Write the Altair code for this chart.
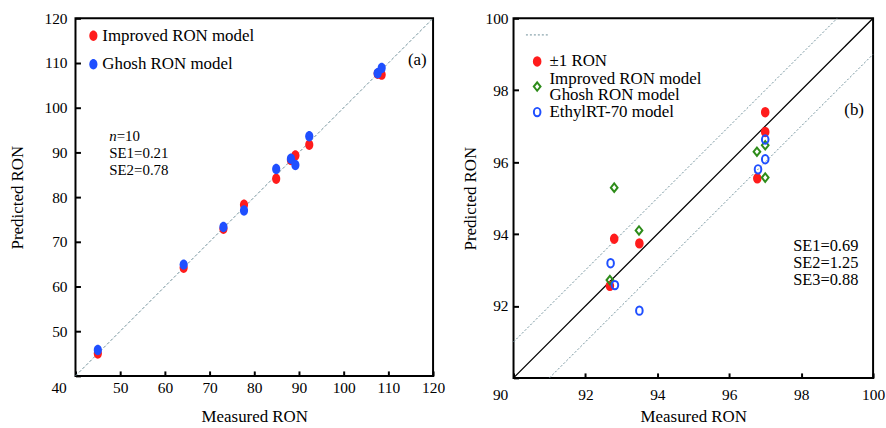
import altair as alt
import pandas as pd

FONT = "Liberation Serif"
RED = "#ff1c1c"
BLUE = "#1f4fff"
GREEN = "#2e8c1a"
GRAY = "#6f8f99"
ELLIPSE = "M0,-1A0.78,1,0,1,1,0,1A0.78,1,0,1,1,0,-1Z"
DIAMOND = "M0,-1L0.8,0L0,1L-0.8,0Z"

# ---------------- panel (a) data ----------------
a_ticks = [40, 50, 60, 70, 80, 90, 100, 110, 120]
a_measured = [45.0, 64.2, 73.1, 77.7, 84.9, 88.2, 89.2, 92.3, 107.6, 108.5]
a_improved = [45.0, 64.2, 72.9, 78.3, 84.1, 88.3, 89.3, 91.7, 107.6, 107.4]
a_ghosh = [45.8, 64.9, 73.3, 77.0, 86.3, 88.6, 87.2, 93.6, 107.7, 108.9]
a_models = ["Improved RON model", "Ghosh RON model"]
a_ref = [40, 120]

# ---------------- panel (b) data ----------------
b_ticks = [90, 92, 94, 96, 98, 100]
b_series = ["±1 RON", "Improved RON model", "EthylRT-70 model"]
b_legend_extra = "Ghosh RON model"
b_red_x = [92.68, 92.8, 93.5, 96.78, 97.0, 97.0]
b_red_y = [92.56, 93.87, 93.74, 95.55, 96.84, 97.39]
b_green_x = [92.68, 92.8, 93.49, 96.77, 97.0, 97.0]
b_green_y = [92.72, 95.29, 94.10, 96.29, 95.57, 96.47]
b_blue_x = [92.7, 92.82, 93.5, 96.8, 97.0, 97.0]
b_blue_y = [93.19, 92.58, 91.87, 95.80, 96.08, 96.63]
b_diag = [90, 100]
b_upper_x = [90, 99]
b_upper_y = [91, 100]
b_lower_x = [91, 100]
b_lower_y = [90, 99]


def x_axis(ticks, lp, tp, corner, corner_off):
    return alt.Axis(
        values=ticks, domain=False, grid=False, offset=-5, tickSize=5, tickWidth=2,
        tickColor="black", labelPadding=lp, labelFont=FONT, labelFontSize=15.5,
        labelColor="black", labelFlush=False, labelOverlap=False,
        labelOffset={"condition": {"test": f"datum.value === {corner}", "value": corner_off}, "value": 0},
        title="Measured RON", titleFont=FONT, titleFontSize=17, titleFontWeight="normal",
        titleColor="black", titlePadding=tp,
    )


def y_axis(ticks, lp, tp, corner):
    return alt.Axis(
        values=ticks, domain=False, grid=False, offset=-5, tickSize=5, tickWidth=2,
        tickColor="black", labelPadding=lp, labelFont=FONT, labelFontSize=15.5,
        labelColor="black", labelFlush=False, labelOverlap=False,
        labelExpr=f"datum.value == {corner} ? '' : datum.label",
        title="Predicted RON", titleFont=FONT, titleFontSize=17, titleFontWeight="normal",
        titleColor="black", titlePadding=tp,
    )


def label(text, x, y, size, align="left", style="normal"):
    return alt.Chart(pd.DataFrame({"t": [text]})).mark_text(
        font=FONT, fontSize=size, align=align, baseline="middle", color="black", fontStyle=style
    ).encode(text="t:N", x=alt.value(x), y=alt.value(y))


def key_symbol(shape, fill, stroke, x, y):
    return alt.Chart(pd.DataFrame({"k": [0]})).mark_point(
        shape=shape, size=72, fill=fill, stroke=stroke, strokeWidth=2, opacity=1
    ).encode(x=alt.value(x), y=alt.value(y))


# ---------------- panel (a) ----------------
xa = alt.X("x:Q", scale=alt.Scale(domain=[40, 120], nice=False, zero=False),
           axis=x_axis(a_ticks, 4.5, 13, 40, -17))
ya = alt.Y("y:Q", scale=alt.Scale(domain=[40, 120], nice=False, zero=False),
           axis=y_axis(a_ticks, 8.5, 17.5, 40))

df_a = pd.DataFrame({
    "x": a_measured + a_measured,
    "y": a_improved + a_ghosh,
    "model": [a_models[0]] * len(a_improved) + [a_models[1]] * len(a_ghosh),
})
diag_a = alt.Chart(pd.DataFrame({"x": a_ref, "y": a_ref})).mark_line(
    stroke=GRAY, strokeWidth=1, strokeDash=[3, 2]).encode(x=xa, y=ya)
pts_a = alt.Chart(df_a).mark_point(filled=True, size=110, opacity=1, shape=ELLIPSE).encode(
    x=xa, y=ya,
    color=alt.Color("model:N", scale=alt.Scale(domain=a_models, range=[RED, BLUE]),
                    legend=alt.Legend(orient="none", legendX=9.5, legendY=9, title=None, padding=0,
                                      rowPadding=10.7, symbolType=ELLIPSE, symbolSize=110,
                                      symbolStrokeWidth=0, labelFont=FONT, labelFontSize=17,
                                      labelColor="black", labelOffset=0.5, labelLimit=0)),
)
panel_a = alt.layer(
    diag_a, pts_a,
    label("n", 34, 118.5, 15, style="italic"),
    label("=10", 41.5, 118.5, 15),
    label("SE1=0.21", 34, 135.8, 15),
    label("SE2=0.78", 34, 152.5, 15),
    label("(a)", 353.5, 42, 17, align="right"),
).properties(width=360, height=360)

# ---------------- panel (b) ----------------
xb = alt.X("x:Q", scale=alt.Scale(domain=[90, 100], nice=False, zero=False),
           axis=x_axis(b_ticks, 10, 5, 90, -13.5))
yb = alt.Y("y:Q", scale=alt.Scale(domain=[90, 100], nice=False, zero=False),
           axis=y_axis(b_ticks, 5.5, 6, 90))

df_b = pd.DataFrame({
    "x": b_red_x + b_green_x + b_blue_x,
    "y": b_red_y + b_green_y + b_blue_y,
    "series": [b_series[0]] * len(b_red_x) + [b_series[1]] * len(b_green_x) + [b_series[2]] * len(b_blue_x),
})
df_band = pd.DataFrame({
    "x": b_upper_x + b_lower_x,
    "y": b_upper_y + b_lower_y,
    "line": ["upper"] * len(b_upper_x) + ["lower"] * len(b_lower_x),
})
band_b = alt.Chart(df_band).mark_line(stroke=GRAY, strokeWidth=1, strokeDash=[2, 2]).encode(
    x=xb, y=yb, detail="line:N")
diag_b = alt.Chart(pd.DataFrame({"x": b_diag, "y": b_diag})).mark_line(
    stroke="black", strokeWidth=1.3).encode(x=xb, y=yb)

pts_b = alt.Chart(df_b).mark_point(size=72, strokeWidth=2, opacity=1).encode(
    x=xb, y=yb,
    stroke=alt.Stroke("series:N", scale=alt.Scale(domain=b_series, range=[RED, GREEN, BLUE]), legend=None),
    fill=alt.Fill("series:N", scale=alt.Scale(domain=b_series, range=[RED, "transparent", "transparent"]), legend=None),
    shape=alt.Shape("series:N", scale=alt.Scale(domain=b_series, range=[ELLIPSE, DIAMOND, ELLIPSE]), legend=None),
)

key_line = alt.Chart(pd.DataFrame({"k": [0]})).mark_rule(
    stroke=GRAY, strokeWidth=1, strokeDash=[2, 2]
).encode(x=alt.value(12.5), x2=alt.value(35.5), y=alt.value(16.7))

panel_b = alt.layer(
    band_b, diag_b, pts_b,
    key_line,
    key_symbol(ELLIPSE, RED, RED, 23.8, 43.4),
    key_symbol(DIAMOND, "transparent", GREEN, 23.8, 68.7),
    key_symbol(ELLIPSE, "transparent", BLUE, 23.8, 94.4),
    label(b_series[0], 36.2, 43.4, 17),
    label(b_series[1], 36.2, 61.0, 17),
    label(b_legend_extra, 36.2, 77.7, 17),
    label(b_series[2], 36.2, 94.4, 17),
    label("SE1=0.69", 281.5, 229.4, 16.5),
    label("SE2=1.25", 281.5, 246.7, 16.5),
    label("SE3=0.88", 281.5, 263.4, 16.5),
    label("(b)", 352.8, 92.7, 17, align="right"),
).properties(width=362, height=362)

chart = alt.hconcat(panel_a, panel_b, spacing=14).resolve_scale(
    x="independent", y="independent", color="independent", stroke="independent",
    fill="independent", shape="independent"
).properties(
    padding={"left": 7, "top": 9, "right": 0, "bottom": 0}
).configure(font=FONT).configure_view(stroke="black", strokeWidth=2)

chart.save("out.html", embed_options={"renderer": "svg", "actions": False})
